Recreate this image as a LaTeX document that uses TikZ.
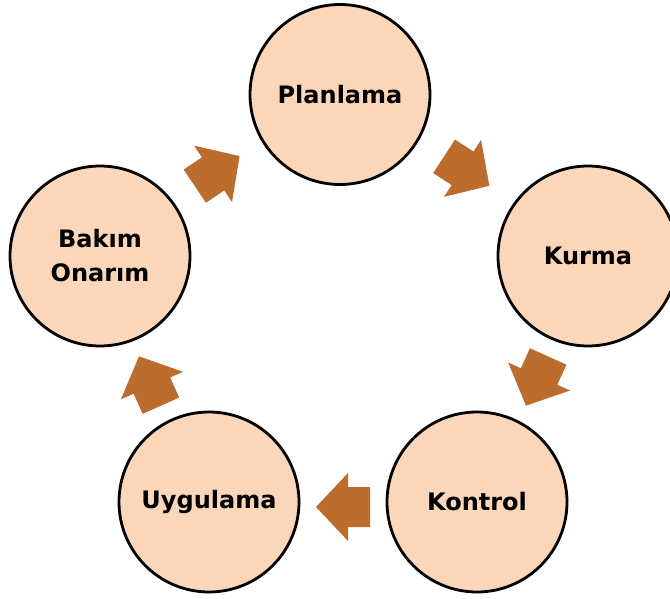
\documentclass[tikz,border=0pt]{standalone}
\usepackage{fontspec}
\setmainfont{DejaVu Sans}
\definecolor{CyclePeach}{RGB}{251,214,184}
\definecolor{CycleBrown}{RGB}{188,108,44}

\tikzset{
    turnarrow/.pic={
        \fill[CycleBrown] (27,5) -- (-5,39) -- (-5,25) -- (-27,25)
            -- (-27,-15) -- (-5,-15) -- (-5,-29) -- cycle;
    }
}

\begin{document}
\begin{tikzpicture}[x=1pt, y=1pt,
    stage/.style={circle, draw=black, line width=2.8pt, fill=CyclePeach,
        minimum size=180pt, inner sep=0pt, align=center,
        font=\fontsize{24}{34}\selectfont\bfseries}]
    \useasboundingbox (0,0) rectangle (670,-599);

    % Stages
    \node[stage] (plan) at (340,-94.5) {Planlama};
    \node[stage] (kurma) at (588,-256) {Kurma};
    \node[stage] (kontrol) at (477,-502) {Kontrol};
    \node[stage] (uygulama) at (209,-502) {Uygulama};
    \node[stage] (bakim) at (100,-256) {Bakım\\Onarım};

    % Arrows
    \path (plan) -- (kurma) pic[midway, sloped, allow upside down] {turnarrow};
    \path (kurma) -- (kontrol) pic[midway, sloped, allow upside down] {turnarrow};
    \path (kontrol) -- (uygulama) pic[midway, sloped, allow upside down] {turnarrow};
    \path (uygulama) -- (bakim) pic[midway, sloped, allow upside down] {turnarrow};
    \path (bakim) -- (plan) pic[midway, sloped, allow upside down] {turnarrow};
\end{tikzpicture}
\end{document}
